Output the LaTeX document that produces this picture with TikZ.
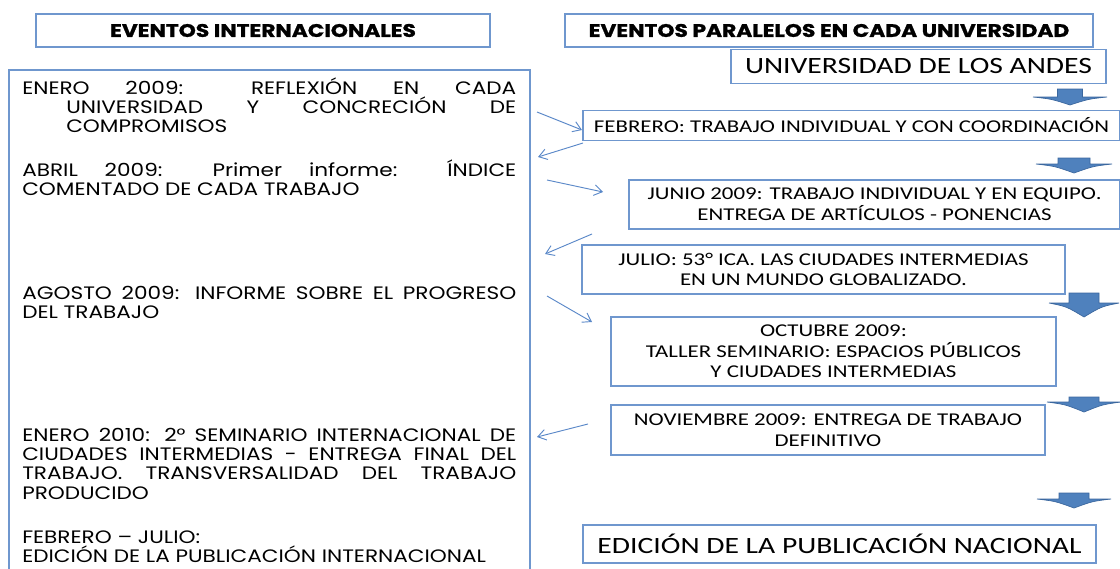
\documentclass[tikz,border=0pt]{standalone}
\usepackage{fontspec}
\setmainfont{Carlito}[FakeStretch=1.27]
\newfontfamily\leftfont{Poppins}[FakeStretch=1.2]
\newfontfamily\headfont{Poppins}[FakeStretch=1.2, BoldFeatures={FakeBold=1.2}]
\usetikzlibrary{arrows.meta}
\definecolor{boxblue}{HTML}{6F97CE}
\definecolor{arrblue}{HTML}{5A88C8}
\definecolor{blkfill}{HTML}{4F81BD}
\definecolor{blkdraw}{HTML}{3B679E}
\newcommand\blkarrow[6]{% cx, top, shaft half, shaft bottom, head half, tip
  \filldraw[blk] ({#1-#3},#2) -- ({#1+#3},#2) -- ({#1+#3},#4) -- ({#1+#5},#4)
    .. controls ({#1+0.5*#5},{#4+0.25*(#6-#4)}) .. (#1,#6)
    .. controls ({#1-0.5*#5},{#4+0.25*(#6-#4)}) .. ({#1-#5},#4)
    -- ({#1-#3},#4) -- cycle;}
\tikzset{
  wh/.style 2 args={minimum width=#1*0.75pt, minimum height=#2*0.75pt},
  bx/.style={draw=boxblue, line width=0.9pt, inner sep=0pt, align=center},
  hdr/.style={bx, font=\headfont\bfseries\fontsize{13.6}{15}\selectfont},
  rtxt/.style={bx, font=\fontsize{13.5}{15.5}\selectfont},
  ltxt/.style={anchor=base west, inner sep=0pt, text width=494*0.75pt, align=justify,
    font=\leftfont\fontsize{13.5}{14.6}\selectfont},
  thin/.style={draw=arrblue, line width=0.7pt, -{Straight Barb[length=6pt,width=8pt]}},
  blk/.style={fill=blkfill, draw=blkdraw, line width=0.5pt}
}
\begin{document}
\begin{tikzpicture}[x=0.75pt,y=-0.75pt]
\useasboundingbox (0,0) rectangle (1120,568);
% headers
\node[hdr, wh={454}{33}] (hl) at (263,30.5) {EVENTOS INTERNACIONALES};
\node[hdr, wh={528}{33}] (hr) at (829,30.5) {EVENTOS PARALELOS EN CADA UNIVERSIDAD};
% left big box
\node[bx, wh={521}{506}] (intl) at (269.5,323) {};
% left items
\node[ltxt] (e1) at (22,94) {\parbox[t]{\linewidth}{\hangindent=33pt\hangafter=1 ENERO 2009: REFLEXIÓN EN CADA\linebreak UNIVERSIDAD Y CONCRECIÓN DE\linebreak COMPROMISOS}};
\node[ltxt] (e2) at (22,176) {ABRIL 2009: Primer informe: ÍNDICE\linebreak COMENTADO DE CADA TRABAJO};
\node[ltxt] (e3) at (22,299) {AGOSTO 2009: INFORME SOBRE EL PROGRESO\linebreak DEL TRABAJO};
\node[ltxt] (e4) at (22,441) {ENERO 2010: 2° SEMINARIO INTERNACIONAL DE\linebreak CIUDADES INTERMEDIAS - ENTREGA FINAL DEL\linebreak TRABAJO. TRANSVERSALIDAD DEL TRABAJO\linebreak PRODUCIDO};
\node[ltxt] (e5) at (22,543) {FEBRERO – JULIO:\\EDICIÓN DE LA PUBLICACIÓN INTERNACIONAL};
% right boxes
\node[rtxt, wh={375}{34}, font=\fontsize{17.5}{20}\selectfont] (uni) at (918.5,66.5) {UNIVERSIDAD DE LOS ANDES};
\node[rtxt, wh={537}{30}] (feb) at (851.5,125.5) {FEBRERO: TRABAJO INDIVIDUAL Y CON COORDINACIÓN};
\node[rtxt, wh={491}{49}] (jun) at (874.5,204.5) {JUNIO 2009: TRABAJO INDIVIDUAL Y EN EQUIPO.\\ENTREGA DE ARTÍCULOS - PONENCIAS};
\node[rtxt, wh={483}{49}] (jul) at (823.5,269.5) {JULIO: 53° ICA. LAS CIUDADES INTERMEDIAS\\EN UN MUNDO GLOBALIZADO.};
\node[rtxt, wh={445}{69}] (oct) at (833.5,351.5) {OCTUBRE 2009:\\TALLER SEMINARIO: ESPACIOS PÚBLICOS\\Y CIUDADES INTERMEDIAS};
\node[rtxt, wh={434}{50}] (nov) at (828,430) {NOVIEMBRE 2009: ENTREGA DE TRABAJO\\DEFINITIVO};
\node[rtxt, wh={513}{38}, font=\fontsize{17.5}{20}\selectfont] (edi) at (839.5,544) {EDICIÓN DE LA PUBLICACIÓN NACIONAL};
% block arrows
\blkarrow{1070}{89}{12.5}{97}{37}{105}
\blkarrow{1074}{158}{16}{164}{38}{173}
\blkarrow{1084}{293}{15}{303}{35}{317}
\blkarrow{1084}{397}{15}{402}{37}{412}
\blkarrow{1074}{493}{15}{499}{37}{508}
% thin connectors
\coordinate (a1s) at (537,112);
\coordinate (a1e) at (582,130);
\coordinate (a2s) at (583,143);
\coordinate (a2e) at (538,157);
\coordinate (a3s) at (547,180);
\coordinate (a3e) at (603,192);
\coordinate (a4s) at (592,234);
\coordinate (a4e) at (545,254);
\coordinate (a5s) at (547,296);
\coordinate (a5e) at (592,322);
\coordinate (a6s) at (588,424);
\coordinate (a6e) at (537,437);
\draw[thin] (a1s) -- (a1e);
\draw[thin] (a2s) -- (a2e);
\draw[thin] (a3s) -- (a3e);
\draw[thin] (a4s) -- (a4e);
\draw[thin] (a5s) -- (a5e);
\draw[thin] (a6s) -- (a6e);
\end{tikzpicture}
\end{document}
